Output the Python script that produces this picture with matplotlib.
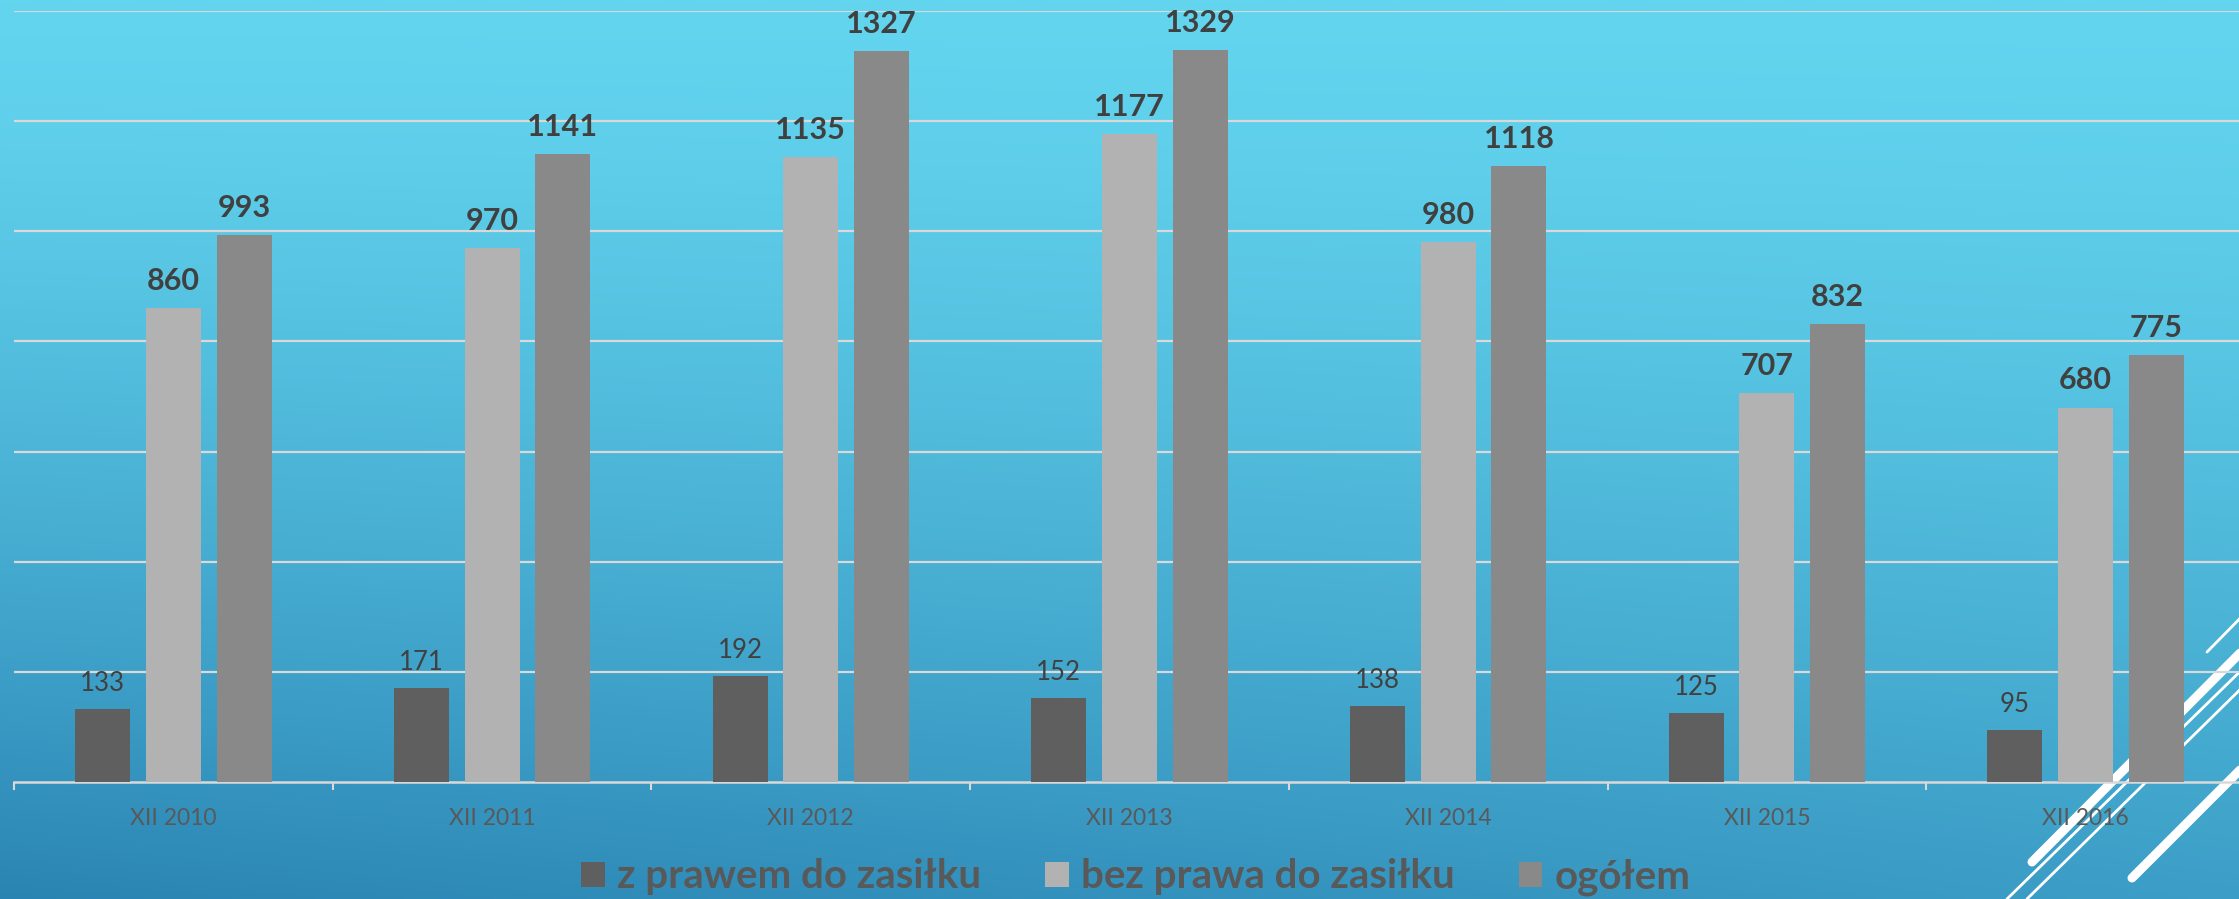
import numpy as np
import matplotlib
matplotlib.use("Agg")
import matplotlib.pyplot as plt
from matplotlib.patches import Patch
from matplotlib.colors import to_rgb

# ---- data ----
categories = ["XII 2010", "XII 2011", "XII 2012", "XII 2013", "XII 2014", "XII 2015", "XII 2016"]
z_prawem = [133, 171, 192, 152, 138, 125, 95]
bez_prawa = [860, 970, 1135, 1177, 980, 707, 680]
ogolem = [993, 1141, 1327, 1329, 1118, 832, 775]
series_names = ["z prawem do zasiłku", "bez prawa do zasiłku", "ogółem"]
series_colors = ["#5F5F5F", "#B2B2B2", "#898989"]

FONT = ["Lato", "DejaVu Sans"]
plt.rcParams["font.family"] = FONT

W, H = 2239, 899
fig = plt.figure(figsize=(W / 100, H / 100), dpi=100)

# ---- background gradient ----
bg = fig.add_axes([0, 0, 1, 1], zorder=0)
yy, xx = np.mgrid[0:H:4, 0:W:4]
t = ((yy / H) ** 1.35) * (1 - 0.32 * xx / W)
top = np.array(to_rgb("#63D5EF"))
bot = np.array(to_rgb("#2A84B3"))
img = top[None, None, :] + (bot - top)[None, None, :] * t[..., None]
bg.imshow(img, extent=[0, W, H, 0], aspect="auto", interpolation="bilinear")
bg.set_xlim(0, W)
bg.set_ylim(H, 0)
bg.axis("off")
# decorative white strokes (bottom right)
for (x0, y0, x1, y1, lw) in [
    (2032, 862, 2260, 633, 6.5),
    (2007, 899, 2260, 652, 2.0),
    (2027, 899, 2260, 670, 2.0),
    (2132, 878, 2260, 750, 6.5),
    (2207, 652, 2260, 598, 2.0),
]:
    bg.plot([x0, x1], [y0, y1], color="white", lw=lw, solid_capstyle="round")

# ---- main axes ----
left = 14 / W
bottom = 1 - 782 / H
ax = fig.add_axes([left, bottom, (2245 - 14) / W, (782 - 11) / H], zorder=1)
ax.set_facecolor("none")
x = np.arange(len(categories))
width = 0.1725
offs = [-0.222, 0.0, 0.222]
data = [z_prawem, bez_prawa, ogolem]
for vals, off, col in zip(data, offs, series_colors):
    ax.bar(x + off, vals, width=width, color=col, zorder=3)

for i in range(len(categories)):
    ax.annotate(str(z_prawem[i]), (x[i] + offs[0], z_prawem[i]), xytext=(0, 13),
                textcoords="offset points", ha="center", va="baseline",
                fontsize=18.5, color="#404040")
    for vals, off in ((bez_prawa, offs[1]), (ogolem, offs[2])):
        ax.annotate(str(vals[i]), (x[i] + off, vals[i]), xytext=(0, 13),
                    textcoords="offset points", ha="center", va="baseline",
                    fontsize=22, fontweight="bold", color="#404040")

ax.set_xlim(-0.5, len(categories) - 0.5)
ax.set_ylim(0, 1400)
ax.set_yticks(np.arange(200, 1401, 200))
ax.yaxis.grid(True, color="#D9D9D9", lw=1.6)
ax.set_axisbelow(True)
ax.tick_params(axis="y", left=False, labelleft=False)
for s in ("left", "right", "top"):
    ax.spines[s].set_visible(False)
ax.spines["bottom"].set_color("#D9D9D9")
ax.spines["bottom"].set_linewidth(1.8)
ax.set_xticks(x)
ax.set_xticklabels(categories, fontsize=16.5, color="#595959")
ax.tick_params(axis="x", which="major", length=0, pad=19)
ax.set_xticks(np.arange(-0.5, len(categories), 1.0), minor=True)
ax.tick_params(axis="x", which="minor", length=6, width=1.5, color="#D9D9D9", direction="out")

# ---- legend ----
handles = [Patch(facecolor=c, edgecolor="none") for c in series_colors]
leg = fig.legend(handles, series_names, loc="center", bbox_to_anchor=(1136 / W, 1 - 877 / H),
                 ncol=3, frameon=False, handlelength=0.58, handleheight=0.58,
                 handletextpad=0.3, columnspacing=1.6,
                 prop={"family": FONT, "weight": "bold", "size": 29})
for txt in leg.get_texts():
    txt.set_color("#595959")

fig.savefig("out.png", dpi=100)
